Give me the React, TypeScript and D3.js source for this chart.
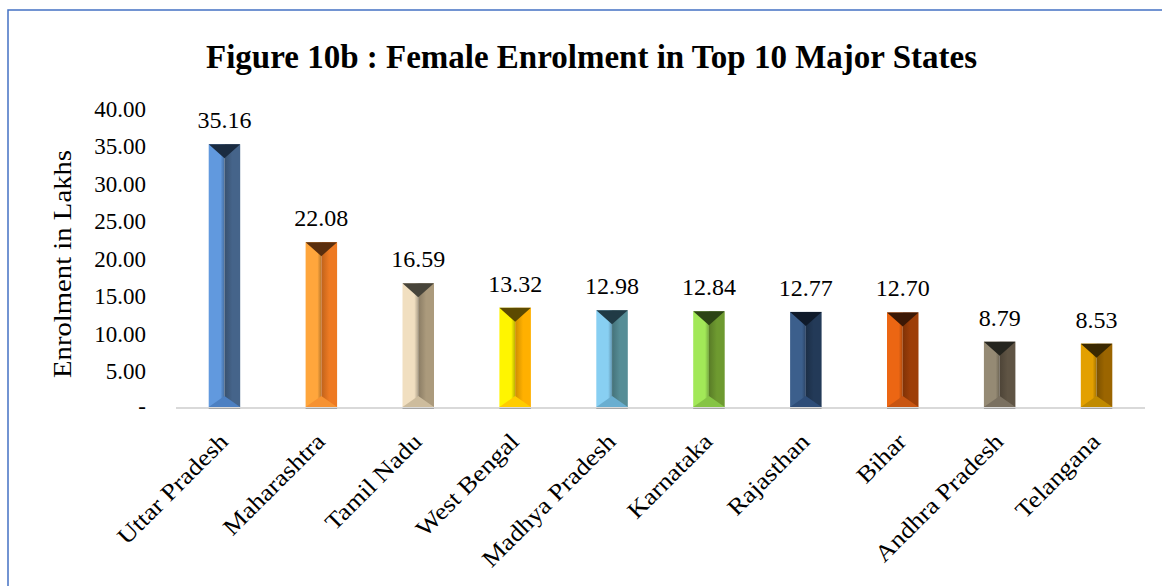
import React from "react";
import * as d3 from "d3";

const categories = [
  "Uttar Pradesh",
  "Maharashtra",
  "Tamil Nadu",
  "West Bengal",
  "Madhya Pradesh",
  "Karnataka",
  "Rajasthan",
  "Bihar",
  "Andhra Pradesh",
  "Telangana",
];
const values = [35.16, 22.08, 16.59, 13.32, 12.98, 12.84, 12.77, 12.7, 8.79, 8.53];
const yTicks = [0, 5, 10, 15, 20, 25, 30, 35, 40];
const yTickLabels = ["-", "5.00", "10.00", "15.00", "20.00", "25.00", "30.00", "35.00", "40.00"];

// [light left face, dark right face, top facet, bottom facet]
const barColors: string[][] = [
  ["#6199de", "#45648a", "#1a2b40", "#4d80c2"],
  ["#ffa63c", "#ee7a22", "#5a2e0e", "#f69232"],
  ["#f1dfc0", "#ab9a7c", "#47443a", "#cdbc9d"],
  ["#fff500", "#ffb000", "#5c4a00", "#ffcc00"],
  ["#88cff2", "#568d96", "#203a45", "#6aaed0"],
  ["#a2e858", "#6e9a30", "#2c4415", "#86c445"],
  ["#3c5f8c", "#233a58", "#0f1a2a", "#2e4d78"],
  ["#ec6613", "#9e3e08", "#3c1805", "#c85512"],
  ["#958a74", "#5f5444", "#25251f", "#7a7060"],
  ["#e3a000", "#9b6500", "#3a2800", "#c08a00"],
];

const W = 1162;
const H = 586;
const plotLeft = 176;
const plotRight = 1145;
const yZero = 407.5;
const yTop = 108;
const serif = "'Liberation Serif', 'Times New Roman', serif";

export default function App() {
  const x = d3
    .scaleBand<string>()
    .domain(categories)
    .range([plotLeft, plotRight])
    .paddingInner(0.675)
    .paddingOuter(0.3375);
  const y = d3.scaleLinear().domain([0, 40]).range([yZero, yTop]);
  const bw = x.bandwidth();

  return (
    <svg
      width={W}
      height={H}
      viewBox={`0 0 ${W} ${H}`}
      style={{ position: "absolute", left: 0, top: 0, background: "#fff" }}
    >
      <defs>
        {barColors.map((c, i) => (
          <React.Fragment key={i}>
            <linearGradient id={`gl${i}`} x1="0" x2="1" y1="0" y2="0">
              <stop offset="0" stopColor={c[0]} />
              <stop offset="0.75" stopColor={c[0]} />
              <stop offset="1" stopColor={d3.color(c[0])!.darker(0.9).formatHex()} />
            </linearGradient>
            <linearGradient id={`gr${i}`} x1="0" x2="1" y1="0" y2="0">
              <stop offset="0" stopColor={d3.color(c[1])!.darker(0.6).formatHex()} />
              <stop offset="0.5" stopColor={c[1]} />
              <stop offset="1" stopColor={c[1]} />
            </linearGradient>
          </React.Fragment>
        ))}
      </defs>
      <rect x={0} y={0} width={W} height={H} fill="#fff" />
      <rect x={8} y={10} width={W + 20} height={H + 20} fill="none" stroke="#4472c4" strokeWidth={1.5} />

      <text
        x={591.5}
        y={67.5}
        textAnchor="middle"
        fontFamily={serif}
        fontWeight="bold"
        fontSize={33}
        textLength={771}
        lengthAdjust="spacingAndGlyphs"
        fill="#000"
      >
        Figure 10b : Female Enrolment in Top 10 Major States
      </text>

      {/* y-axis title */}
      <text
        transform={`translate(71,264) rotate(-90)`}
        textAnchor="middle"
        fontFamily={serif}
        fontSize={26}
        textLength={228}
        lengthAdjust="spacingAndGlyphs"
        fill="#000"
      >
        Enrolment in Lakhs
      </text>

      {/* y tick labels */}
      {yTicks.map((t, i) => (
        <text
          key={t}
          x={146}
          y={y(t) + (t === 0 ? 6 : 9)}
          textAnchor="end"
          fontFamily={serif}
          fontSize={23}
          fill="#000"
        >
          {yTickLabels[i]}
        </text>
      ))}

      {/* baseline */}
      <line x1={plotLeft} x2={plotRight} y1={yZero + 0.5} y2={yZero + 0.5} stroke="#d9d9d9" strokeWidth={2} />

      {/* bars */}
      {categories.map((cat, i) => {
        const x0 = x(cat)!;
        const x1 = x0 + bw;
        const cx = x0 + bw / 2;
        const top = y(values[i]);
        const bot = yZero - 0.5;
        const h = bot - top;
        const dTop = Math.min(14, h / 2);
        const dBot = Math.min(11, h / 2);
        const c = barColors[i];
        return (
          <g key={cat}>
            <rect x={x0} y={top} width={bw / 2} height={h} fill={`url(#gl${i})`} />
            <rect x={cx} y={top} width={bw / 2} height={h} fill={`url(#gr${i})`} />
            <polygon points={`${x0},${top} ${x1},${top} ${cx},${top + dTop}`} fill={c[2]} />
            <polygon points={`${x0},${bot} ${x1},${bot} ${cx},${bot - dBot}`} fill={c[3]} />
            <line x1={x0} x2={x1} y1={yZero + 1} y2={yZero + 1} stroke="#a6a6a6" strokeWidth={1} />
            <text
              x={cx}
              y={top - 16}
              textAnchor="middle"
              fontFamily={serif}
              fontSize={24}
              fill="#000"
            >
              {values[i].toFixed(2)}
            </text>
            <text
              transform={`translate(${cx + 5},443) rotate(-45) scale(1.13,1)`}
              textAnchor="end"
              fontFamily={serif}
              fontSize={23.5}
              fill="#000"
            >
              {cat}
            </text>
          </g>
        );
      })}
    </svg>
  );
}
